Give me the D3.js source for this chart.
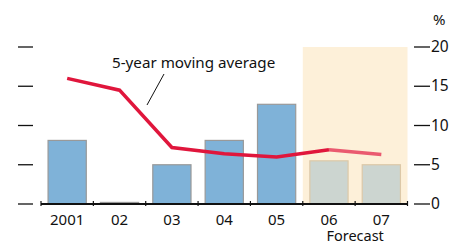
<!DOCTYPE html>
<html>
<head>
<meta charset="utf-8">
<script src="https://cdn.jsdelivr.net/npm/d3@7"></script>
<style>
  body { margin: 0; background: #fff; }
  text { font-family: "Noto Sans", sans-serif; fill: #111; }
</style>
</head>
<body>
<script>
const years = ["2001", "02", "03", "04", "05", "06", "07"];
const growth = [8.1, 0.2, 5.0, 8.1, 12.7, 5.5, 5.0];
const movingAvg = [16.0, 14.5, 7.2, 6.4, 6.0, 6.9, 6.3];
const forecastYears = ["06", "07"];
const yTicks = [0, 5, 10, 15, 20];

const w = 453, h = 244;
const svg = d3.select("body").append("svg")
  .attr("width", w).attr("height", h);

const x = d3.scaleBand().domain(years).range([41, 407.5]).paddingInner(0.27).paddingOuter(0.135);
const y = d3.scaleLinear().domain([0, 20]).range([204, 47]);

// forecast shading
const fx0 = x(forecastYears[0]) - x.step() * x.paddingInner() / 2;
svg.append("rect")
  .attr("x", fx0).attr("y", y(20))
  .attr("width", 407.5 - fx0).attr("height", y(0) - y(20))
  .attr("fill", "#fdf0d9");

// tick marks both sides
svg.append("g").selectAll("line").data(yTicks).enter().append("line")
  .attr("x1", 18).attr("x2", 33)
  .attr("y1", d => y(d)).attr("y2", d => y(d))
  .attr("stroke", "#111").attr("stroke-width", 1.3);
svg.append("g").selectAll("line").data(yTicks).enter().append("line")
  .attr("x1", 414).attr("x2", 430)
  .attr("y1", d => y(d)).attr("y2", d => y(d))
  .attr("stroke", "#111").attr("stroke-width", 1.3);
svg.append("g").selectAll("text").data(yTicks).enter().append("text")
  .attr("x", 431).attr("y", d => y(d) + 5)
  .attr("font-size", 15.5)
  .text(d => d);
svg.append("text").attr("x", 433).attr("y", 25).attr("font-size", 15).text("%");

// bars
svg.append("g").selectAll("rect").data(years).enter().append("rect")
  .attr("x", d => x(d))
  .attr("y", (d, i) => y(growth[i]))
  .attr("width", x.bandwidth())
  .attr("height", (d, i) => y(0) - y(growth[i]))
  .attr("fill", d => forecastYears.includes(d) ? "#ccd5d0" : "#7fb2d8")
  .attr("stroke", d => forecastYears.includes(d) ? "#dcc8a8" : "#999")
  .attr("stroke-width", 1.2);

// moving average line
const line = d3.line().x(d => x(d[0]) + x.bandwidth() / 2).y(d => y(d[1]));
const pts = years.map((d, i) => [d, movingAvg[i]]);
const split = years.indexOf(forecastYears[0]);
svg.append("path").datum(pts.slice(0, split + 1))
  .attr("d", line).attr("fill", "none")
  .attr("stroke", "#e0163c").attr("stroke-width", 3.5);
svg.append("path").datum(pts.slice(split))
  .attr("d", line).attr("fill", "none")
  .attr("stroke", "#ea5a70").attr("stroke-width", 3.5);

// x axis
svg.append("line").attr("x1", 41).attr("x2", 407.5)
  .attr("y1", y(0)).attr("y2", y(0))
  .attr("stroke", "#111").attr("stroke-width", 2.2);
const bounds = years.map(d => x(d) - x.step() * x.paddingInner() / 2).concat([407.5]);
bounds[0] = 41;
svg.append("g").selectAll("line").data(bounds).enter().append("line")
  .attr("x1", d => d).attr("x2", d => d)
  .attr("y1", y(0) - 3).attr("y2", y(0) + 2)
  .attr("stroke", "#111").attr("stroke-width", 1.2);
svg.append("g").selectAll("text").data(years).enter().append("text")
  .attr("x", d => x(d) + x.bandwidth() / 2).attr("y", 225)
  .attr("text-anchor", "middle").attr("font-size", 15)
  .text(d => d);
svg.append("text")
  .attr("x", (x("06") + x("07") + x.bandwidth()) / 2).attr("y", 241)
  .attr("text-anchor", "middle").attr("font-size", 14.5)
  .text("Forecast");

// annotation
svg.append("text").attr("x", 112).attr("y", 68).attr("font-size", 15.2)
  .text("5-year moving average");
svg.append("line").attr("x1", 164).attr("y1", 74).attr("x2", 147).attr("y2", 105)
  .attr("stroke", "#111").attr("stroke-width", 1);
</script>
</body>
</html>
